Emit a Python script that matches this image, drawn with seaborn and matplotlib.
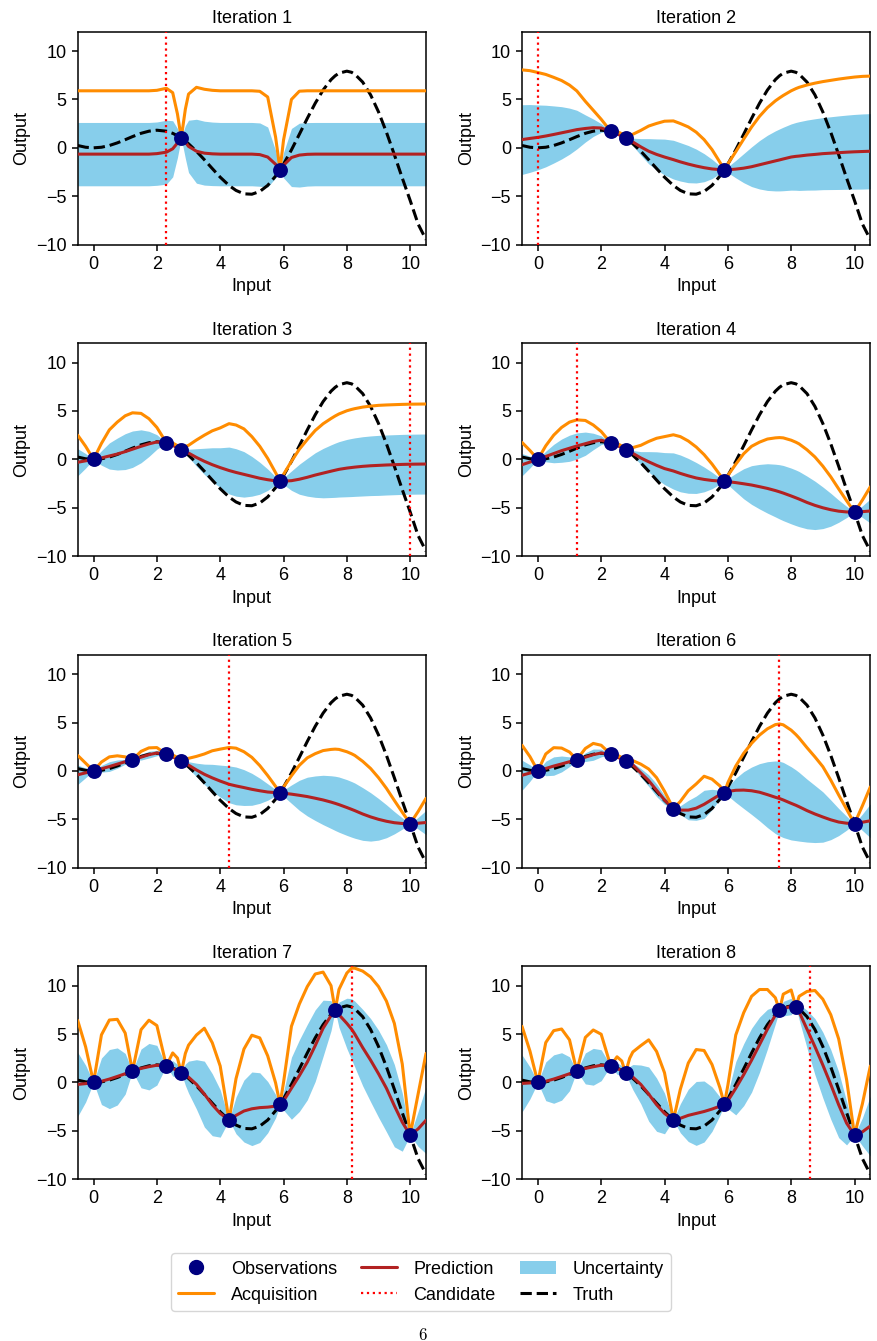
import matplotlib
matplotlib.use("Agg")
import matplotlib.pyplot as plt
import numpy as np
import seaborn as sns
from matplotlib.lines import Line2D
from matplotlib.patches import Patch

# sample positions along the input axis
x_grid = [-0.5, -0.25, 0.0, 0.25, 0.5, 0.75, 1.0, 1.23, 1.5, 1.75,
          2.0, 2.3, 2.5, 2.65, 2.77, 2.9, 3.0, 3.25, 3.5, 3.75,
          4.0, 4.28, 4.5, 4.75, 5.0, 5.25, 5.5, 5.75, 5.89, 6.0,
          6.25, 6.5, 6.75, 7.0, 7.25, 7.5, 7.63, 7.75, 8.0, 8.15,
          8.25, 8.5, 8.75, 9.0, 9.25, 9.5, 9.75, 10.0, 10.25, 10.5]

truth = [0.24, 0.06, 0.0, 0.06, 0.24, 0.51, 0.84, 1.16, 1.50, 1.72,
         1.82, 1.72, 1.50, 1.25, 1.01, 0.69, 0.42, -0.35, -1.23, -2.14,
         -3.03, -3.89, -4.40, -4.75, -4.79, -4.51, -3.88, -2.92, -2.26, -1.68,
         -0.21, 1.40, 3.04, 4.60, 5.97, 7.04, 7.44, 7.71, 7.92, 7.80,
         7.61, 6.79, 5.47, 3.71, 1.61, -0.71, -3.12, -5.44, -7.87, -9.48]

# observations in the order they were added
obs_x = [2.77, 5.89, 2.3, 0.0, 10.0, 1.23, 4.28, 7.63, 8.15]
obs_y = [1.01, -2.26, 1.72, 0.0, -5.44, 1.16, -3.89, 7.44, 7.80]
candidates = [2.3, 0.0, 10.0, 1.23, 4.28, 7.63, 8.15, 8.61]

# predicted mean and half-width of the uncertainty band, per iteration
mean_1 = [-0.65, -0.65, -0.65, -0.65, -0.65, -0.65, -0.65, -0.65, -0.65, -0.65,
          -0.6, -0.45, -0.1, 0.5, 1.01, 0.6, 0.15, -0.35, -0.55, -0.62,
          -0.65, -0.65, -0.65, -0.65, -0.65, -0.7, -0.95, -1.7, -2.26, -1.8,
          -1.0, -0.75, -0.67, -0.65, -0.65, -0.65, -0.65, -0.65, -0.65, -0.65,
          -0.65, -0.65, -0.65, -0.65, -0.65, -0.65, -0.65, -0.65, -0.65, -0.65]
spread_1 = [3.27, 3.27, 3.27, 3.27, 3.27, 3.27, 3.27, 3.27, 3.27, 3.27,
            3.27, 3.3, 2.9, 1.5, 0.0, 1.7, 2.7, 3.3, 3.3, 3.28,
            3.27, 3.27, 3.27, 3.27, 3.27, 3.27, 3.1, 1.4, 0.0, 1.3,
            3.0, 3.3, 3.28, 3.27, 3.27, 3.27, 3.27, 3.27, 3.27, 3.27,
            3.27, 3.27, 3.27, 3.27, 3.27, 3.27, 3.27, 3.27, 3.27, 3.27]

mean_2 = [0.85, 0.97, 1.08, 1.22, 1.38, 1.55, 1.72, 1.88, 2.0, 2.08,
          2.05, 1.72, 1.45, 1.22, 1.01, 0.8, 0.6, 0.1, -0.35, -0.68,
          -0.95, -1.22, -1.45, -1.68, -1.88, -2.05, -2.18, -2.25, -2.26, -2.26,
          -2.2, -2.1, -1.95, -1.75, -1.55, -1.35, -1.25, -1.15, -0.95, -0.88,
          -0.85, -0.75, -0.68, -0.6, -0.55, -0.5, -0.45, -0.41, -0.38, -0.35]
spread_2 = [3.6, 3.5, 3.35, 3.18, 2.95, 2.7, 2.38, 2.0, 1.4, 0.9,
            0.45, 0.0, 0.12, 0.12, 0.0, 0.25, 0.4, 0.85, 1.3, 1.6,
            1.85, 2.0, 1.98, 1.92, 1.75, 1.45, 1.0, 0.38, 0.0, 0.3,
            0.9, 1.5, 2.05, 2.5, 2.85, 3.1, 3.2, 3.28, 3.42, 3.5,
            3.55, 3.62, 3.68, 3.72, 3.76, 3.8, 3.83, 3.86, 3.88, 3.88]

mean_3 = [-0.3, -0.15, 0.0, 0.15, 0.35, 0.55, 0.8, 1.05, 1.35, 1.6,
          1.8, 1.72, 1.45, 1.22, 1.01, 0.82, 0.65, 0.2, -0.2, -0.55,
          -0.85, -1.15, -1.35, -1.55, -1.75, -1.95, -2.1, -2.22, -2.26, -2.25,
          -2.2, -2.05, -1.85, -1.62, -1.42, -1.22, -1.12, -1.03, -0.9, -0.84,
          -0.8, -0.72, -0.66, -0.62, -0.58, -0.55, -0.52, -0.5, -0.49, -0.48]
spread_3 = [1.4, 0.75, 0.0, 0.75, 1.35, 1.65, 1.85, 1.88, 1.7, 1.3,
            0.75, 0.0, 0.12, 0.1, 0.0, 0.25, 0.4, 0.9, 1.35, 1.75,
            2.05, 2.42, 2.45, 2.35, 2.05, 1.65, 1.1, 0.42, 0.0, 0.35,
            1.0, 1.55, 1.95, 2.3, 2.55, 2.72, 2.8, 2.86, 2.96, 3.0,
            3.02, 3.06, 3.08, 3.1, 3.1, 3.1, 3.1, 3.1, 3.1, 3.1]

mean_4 = [-0.55, -0.28, 0.0, 0.3, 0.6, 0.9, 1.15, 1.38, 1.62, 1.85,
          1.98, 1.72, 1.45, 1.22, 1.01, 0.85, 0.62, 0.15, -0.25, -0.62,
          -0.95, -1.2, -1.45, -1.7, -1.92, -2.07, -2.18, -2.24, -2.26, -2.3,
          -2.4, -2.52, -2.65, -2.82, -3.0, -3.22, -3.35, -3.48, -3.78, -3.97,
          -4.1, -4.45, -4.75, -5.0, -5.2, -5.35, -5.43, -5.44, -5.4, -5.33]
spread_4 = [1.15, 0.6, 0.0, 0.55, 0.95, 1.2, 1.35, 1.35, 1.2, 0.85,
            0.45, 0.0, 0.1, 0.08, 0.0, 0.18, 0.3, 0.65, 1.05, 1.4,
            1.65, 1.87, 1.9, 1.8, 1.6, 1.28, 0.85, 0.32, 0.0, 0.32,
            0.95, 1.55, 2.0, 2.3, 2.55, 2.72, 2.8, 2.85, 2.88, 2.87,
            2.85, 2.72, 2.5, 2.15, 1.7, 1.15, 0.58, 0.0, 0.6, 1.25]

mean_5 = [-0.4, -0.2, 0.0, 0.22, 0.45, 0.7, 0.95, 1.16, 1.42, 1.68,
          1.85, 1.72, 1.45, 1.22, 1.01, 0.82, 0.6, 0.1, -0.35, -0.72,
          -1.05, -1.38, -1.55, -1.72, -1.9, -2.05, -2.18, -2.24, -2.26, -2.3,
          -2.4, -2.52, -2.65, -2.82, -3.0, -3.22, -3.35, -3.48, -3.78, -3.97,
          -4.1, -4.45, -4.75, -5.0, -5.2, -5.35, -5.43, -5.44, -5.4, -5.33]
spread_5 = [1.0, 0.5, 0.0, 0.35, 0.5, 0.43, 0.25, 0.0, 0.3, 0.35,
            0.28, 0.0, 0.1, 0.08, 0.0, 0.2, 0.35, 0.7, 1.05, 1.4,
            1.65, 1.9, 1.95, 1.85, 1.65, 1.3, 0.85, 0.32, 0.0, 0.32,
            0.95, 1.55, 2.0, 2.3, 2.55, 2.72, 2.8, 2.85, 2.88, 2.87,
            2.85, 2.72, 2.5, 2.15, 1.7, 1.15, 0.58, 0.0, 0.6, 1.25]

mean_6 = [-0.45, -0.22, 0.0, 0.25, 0.5, 0.72, 0.95, 1.16, 1.42, 1.68,
          1.85, 1.72, 1.45, 1.22, 1.01, 0.82, 0.62, -0.2, -1.0, -2.0,
          -3.0, -3.89, -4.05, -4.05, -3.85, -3.45, -2.95, -2.45, -2.26, -2.12,
          -2.0, -1.98, -2.05, -2.2, -2.45, -2.72, -2.85, -3.0, -3.35, -3.55,
          -3.7, -4.1, -4.45, -4.76, -5.05, -5.28, -5.4, -5.44, -5.3, -5.15]
spread_6 = [1.55, 0.85, 0.0, 0.75, 0.95, 0.82, 0.5, 0.0, 0.45, 0.58,
            0.4, 0.0, 0.1, 0.08, 0.0, 0.12, 0.22, 0.45, 0.6, 0.65,
            0.45, 0.0, 0.45, 1.0, 1.25, 1.45, 1.05, 0.45, 0.0, 0.45,
            1.25, 1.9, 2.45, 2.95, 3.4, 3.75, 3.85, 3.88, 3.78, 3.65,
            3.55, 3.25, 2.95, 2.6, 2.05, 1.4, 0.72, 0.0, 0.85, 1.75]

mean_7 = [-0.2, -0.12, 0.0, 0.12, 0.35, 0.62, 0.9, 1.16, 1.45, 1.63,
          1.78, 1.72, 1.45, 1.22, 1.01, 0.8, 0.55, -0.2, -1.2, -2.3,
          -3.2, -3.89, -3.4, -2.95, -2.72, -2.6, -2.55, -2.45, -2.26, -1.9,
          -0.6, 0.7, 2.1, 3.8, 5.6, 6.9, 7.44, 7.0, 6.1, 5.5,
          5.0, 3.6, 2.3, 0.9, -0.6, -2.4, -4.1, -5.44, -4.8, -3.9]
spread_7 = [3.3, 1.9, 0.0, 2.4, 3.05, 2.95, 2.1, 0.0, 2.0, 2.4,
            2.05, 0.0, 0.8, 0.65, 0.0, 1.1, 1.65, 2.55, 3.4, 3.2,
            2.45, 0.0, 1.9, 3.2, 3.8, 3.6, 2.65, 1.2, 0.0, 0.95,
            3.2, 3.7, 3.9, 3.7, 2.9, 1.55, 0.0, 1.3, 2.6, 3.15,
            3.4, 3.95, 4.3, 4.5, 4.5, 4.25, 3.0, 0.0, 1.8, 3.45]

mean_8 = [-0.1, -0.05, 0.0, 0.12, 0.35, 0.62, 0.9, 1.16, 1.45, 1.62,
          1.78, 1.72, 1.45, 1.22, 1.01, 0.8, 0.55, -0.2, -1.2, -2.3,
          -3.2, -3.89, -3.7, -3.4, -3.2, -3.0, -2.75, -2.45, -2.26, -1.9,
          -0.6, 0.8, 2.3, 3.9, 5.5, 6.95, 7.44, 7.62, 7.85, 7.8,
          7.3, 5.5, 3.7, 1.8, -0.2, -2.3, -4.2, -5.44, -5.1, -4.5]
spread_8 = [2.95, 1.65, 0.0, 2.0, 2.5, 2.45, 1.75, 0.0, 1.6, 1.9,
            1.6, 0.0, 0.6, 0.5, 0.0, 0.85, 1.3, 2.0, 2.8, 2.75,
            2.1, 0.0, 1.5, 2.7, 3.3, 3.15, 2.3, 0.95, 0.0, 0.8,
            2.75, 3.2, 3.3, 2.85, 2.05, 0.9, 0.0, 0.75, 0.85, 0.0,
            0.8, 1.95, 2.9, 3.4, 3.6, 3.4, 2.25, 0.0, 1.45, 3.1]

means = [mean_1, mean_2, mean_3, mean_4, mean_5, mean_6, mean_7, mean_8]
spreads = [spread_1, spread_2, spread_3, spread_4, spread_5, spread_6, spread_7, spread_8]
kappa = 2.0  # acquisition = mean + kappa * band half-width

sns.set_style("ticks", rc={"axes.edgecolor": "black", "xtick.color": "black",
                           "ytick.color": "black", "text.color": "black",
                           "axes.labelcolor": "black"})
plt.rcParams["font.family"] = ["Liberation Sans", "DejaVu Sans"]
plt.rcParams.update({"font.size": 13, "axes.titlesize": 13, "axes.labelsize": 13,
                     "xtick.labelsize": 13, "ytick.labelsize": 13, "legend.fontsize": 13,
                     "axes.linewidth": 1.1, "xtick.major.width": 1.1, "ytick.major.width": 1.1,
                     "xtick.major.size": 4.5, "ytick.major.size": 4.5})

fig, axes = plt.subplots(4, 2, figsize=(8.77, 13.41), dpi=100)
fig.subplots_adjust(left=0.0886, right=0.9924, top=0.9764, bottom=0.1206,
                    wspace=0.2756, hspace=0.4626)

x = np.array(x_grid)
for i, ax in enumerate(axes.flat):
    m = np.array(means[i])
    s = np.array(spreads[i])
    ax.fill_between(x, m - s, m + s, color="skyblue", linewidth=0, zorder=1)
    sns.lineplot(x=x, y=truth, ax=ax, color="black", linewidth=2.2, linestyle="--", zorder=2)
    sns.lineplot(x=x, y=m, ax=ax, color="firebrick", linewidth=2.2, zorder=3)
    sns.lineplot(x=x, y=m + kappa * s, ax=ax, color="darkorange", linewidth=2.2, zorder=4)
    ax.axvline(candidates[i], color="red", linestyle=":", linewidth=1.6, zorder=5)
    sns.scatterplot(x=obs_x[:i + 2], y=obs_y[:i + 2], ax=ax, color="navy", s=115,
                    linewidth=0, zorder=6)
    ax.set_xlim(-0.5, 10.5)
    ax.set_ylim(-10, 12)
    ax.set_xticks([0, 2, 4, 6, 8, 10])
    ax.set_yticks([-10, -5, 0, 5, 10])
    ax.set_title("Iteration %d" % (i + 1))
    ax.set_xlabel("Input")
    ax.set_ylabel("Output")

handles = [Line2D([], [], color="navy", marker="o", linestyle="none", markersize=10),
           Line2D([], [], color="darkorange", linewidth=2.2),
           Line2D([], [], color="firebrick", linewidth=2.2),
           Line2D([], [], color="red", linestyle=":", linewidth=1.6),
           Patch(facecolor="skyblue", edgecolor="none"),
           Line2D([], [], color="black", linestyle="--", linewidth=2.2)]
labels = ["Observations", "Acquisition", "Prediction", "Candidate", "Uncertainty", "Truth"]
fig.legend(handles, labels, ncol=3, loc="upper center", bbox_to_anchor=(0.48, 0.072),
           frameon=True, columnspacing=1.35, handletextpad=0.9)

fig.text(423 / 877, 0.0045, r"$6$", math_fontfamily="cm", fontsize=12,
         ha="center", va="center")

fig.savefig("out.png", dpi=100)
